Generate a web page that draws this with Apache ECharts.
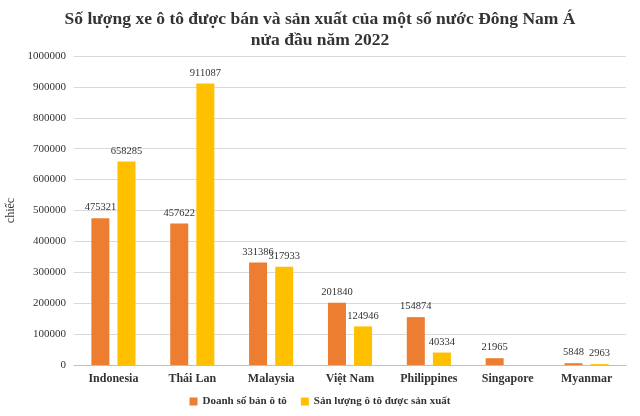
<!DOCTYPE html>
<html><head><meta charset="utf-8">
<script src="https://cdn.jsdelivr.net/npm/echarts@6/dist/echarts.min.js"></script>
<style>html,body{margin:0;padding:0;background:#fff}#c{width:640px;height:416px}</style>
</head><body><div id="c"></div>
<script>
const categories = ['Indonesia','Thái Lan','Malaysia','Việt Nam','Philippines','Singapore','Myanmar'];
const sales = [475321,457622,331386,201840,154874,21965,5848];
const production = [658285,911087,317933,124946,40334,null,2963];
const font = '"Liberation Serif","Times New Roman",serif';
const chart = echarts.init(document.getElementById('c'));
chart.setOption({
  animation:false,
  textStyle:{fontFamily:font},
  title:{text:'Số lượng xe ô tô được bán và sản xuất của một số nước Đông Nam Á\nnửa đầu năm 2022',left:'center',top:4,
    textStyle:{fontFamily:font,fontSize:17.5,fontWeight:'bold',color:'#333',lineHeight:21}},
  legend:{bottom:4,itemWidth:8,itemHeight:8,icon:'rect',itemGap:14,textStyle:{fontFamily:font,fontSize:11,fontWeight:'bold',color:'#333'}},
  grid:{left:74,right:14,top:56,bottom:51,outerBoundsMode:'none',containLabel:false},
  xAxis:{type:'category',data:categories,axisTick:{show:false},axisLine:{lineStyle:{color:'#bfbfbf'}},
    axisLabel:{fontFamily:font,fontSize:12,fontWeight:'bold',color:'#333'}},
  yAxis:{type:'value',min:0,max:1000000,interval:100000,name:'chiếc',nameLocation:'middle',nameGap:54,nameRotate:90,
    nameTextStyle:{fontFamily:font,fontSize:12,color:'#333'},
    axisLabel:{fontFamily:font,fontSize:11,color:'#333',formatter:v=>String(v)},splitLine:{lineStyle:{color:'#d9d9d9'}}},
  series:[
    {name:'Doanh số bán ô tô',type:'bar',data:sales,barWidth:18,barGap:'45%',itemStyle:{color:'#ED7D31'},
      label:{show:true,position:'top',fontFamily:font,fontSize:10.5,color:'#333'}},
    {name:'Sản lượng ô tô được sản xuất',type:'bar',data:production,barWidth:18,itemStyle:{color:'#FFC000'},
      label:{show:true,position:'top',fontFamily:font,fontSize:10.5,color:'#333'}}
  ]
});
</script></body></html>
